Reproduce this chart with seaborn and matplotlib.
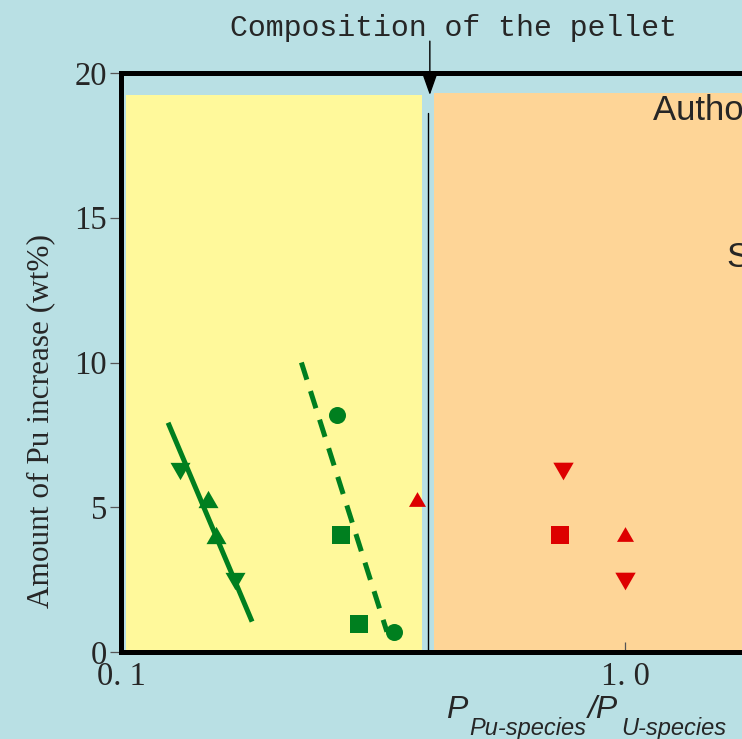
import numpy as np
import pandas as pd
import matplotlib
matplotlib.use("Agg")
import matplotlib.pyplot as plt
from matplotlib import font_manager
from matplotlib.patches import Rectangle
from matplotlib.ticker import NullLocator
import seaborn as sns

# ---- data: pressure ratio P(Pu-species)/P(U-species) vs. Pu increase (wt%) ----
green_down_x = [0.131, 0.168]
green_down_y = [6.25, 2.45]
green_up_x = [0.149, 0.154]
green_up_y = [5.3, 4.05]
green_circle_x = [0.268, 0.348]
green_circle_y = [8.2, 0.68]
green_square_x = [0.273, 0.297]
green_square_y = [4.05, 0.98]

red_up_x = [0.386, 1.0]
red_up_y = [5.3, 4.07]
red_down_x = [0.755, 1.0]
red_down_y = [6.25, 2.45]
red_square_x = [0.743]
red_square_y = [4.05]

solid_fit_x = [0.124, 0.182]
solid_fit_y = [7.92, 1.05]
dashed_fit_x = [0.228, 0.337]
dashed_fit_y = [10.0, 0.7]

pellet_ratio = 0.41
y_ticks = [0, 5, 10, 15, 20]
x_ticks = [0.1, 1.0]
x_tick_labels = ["0. 1", "1. 0"]

# ---- style ----
BG = "#B9E0E4"
YELLOW = "#FFF99B"
ORANGE = "#FED597"
GREEN = "#007F1F"
RED = "#DD0000"

sns.set_style("white")
plt.rcParams["font.family"] = ["Liberation Serif", "DejaVu Serif"]


def pick_family(*names):
    for name in names:
        try:
            font_manager.findfont(font_manager.FontProperties(family=name),
                                  fallback_to_default=False)
            return name
        except Exception:
            continue
    return "serif"


MONO_SERIF = pick_family("Liberation Mono", "Courier New", "Nimbus Mono PS",
                         "Liberation Serif")

W, H = 742, 739
fig = plt.figure(figsize=(W / 100, H / 100), dpi=100, facecolor=BG)
ax = fig.add_axes([121 / W, 1 - 652 / H, 1008 / W, 579 / H])
ax.set_facecolor(BG)
ax.set_xscale("log")
ax.set_xlim(0.1, 10)
ax.set_ylim(0, 20)


def fx(px):
    return px / W


def fy(py):
    return 1 - py / H


# shaded composition regions
ax.add_patch(Rectangle((0.1023, 0), 0.3951 - 0.1023, 19.24,
                       facecolor=YELLOW, edgecolor="none", zorder=0.5))
ax.add_patch(Rectangle((0.4178, 0), 9.7 - 0.4178, 19.31,
                       facecolor=ORANGE, edgecolor="none", zorder=0.5))
ax.plot([0.406, 0.406], [0, 18.62], color="black", lw=1.0, zorder=1)

# fitted trend lines
sns.lineplot(x=solid_fit_x, y=solid_fit_y, color=GREEN, lw=3.6, sort=False,
             estimator=None, solid_capstyle="butt", ax=ax, zorder=2)
sns.lineplot(x=dashed_fit_x, y=dashed_fit_y, color=GREEN, lw=3.6, sort=False,
             estimator=None, linestyle=(0, (3.6, 2.4)), ax=ax, zorder=2)

# equilateral triangle markers
TRI_DOWN = [(-1, 0.866), (1, 0.866), (0, -0.866)]
TRI_UP = [(-1, -0.866), (1, -0.866), (0, 0.866)]

groups = [
    (green_down_x, green_down_y, GREEN, TRI_DOWN, 207),
    (green_up_x, green_up_y, GREEN, TRI_UP, 207),
    (green_circle_x, green_circle_y, GREEN, "o", 150),
    (green_square_x, green_square_y, GREEN, "s", 165),
    (red_up_x, red_up_y, RED, TRI_UP, 150),
    (red_down_x, red_down_y, RED, TRI_DOWN, 215),
    (red_square_x, red_square_y, RED, "s", 165),
]
for gx, gy, col, mk, size in groups:
    df = pd.DataFrame({"ratio": gx, "pu": gy})
    sns.scatterplot(data=df, x="ratio", y="pu", color=col, marker=mk, s=size,
                    linewidth=0, legend=False, ax=ax, zorder=3)

# axes frame and ticks
for side in ["top", "left", "bottom", "right"]:
    ax.spines[side].set_linewidth(3.6)
    ax.spines[side].set_color("black")

ax.set_yticks(y_ticks)
ax.set_yticklabels([str(v) for v in y_ticks])
ax.set_xticks(x_ticks)
ax.set_xticklabels(x_tick_labels)
ax.xaxis.set_minor_locator(NullLocator())
ax.tick_params(axis="y", direction="out", length=8, width=0.9, color="#555555",
               pad=2, labelsize=23.5, left=True)
ax.tick_params(axis="x", direction="in", length=7, width=0.9, color="#555555",
               pad=7, labelsize=23.5, bottom=True)
ax.set_xlabel("")
ax.set_ylabel("")

# annotation arrow for the pellet composition
ax.annotate("", xy=(pellet_ratio, 19.24), xytext=(pellet_ratio, 21.1),
            xycoords="data", textcoords="data", annotation_clip=False,
            arrowprops=dict(arrowstyle="-|>,head_length=0.65,head_width=0.23",
                            mutation_scale=20, lw=1.0, color="black",
                            shrinkA=0, shrinkB=0))
fig.text(fx(453.5), fy(36), "Composition of the pellet", ha="center",
         va="baseline", family=MONO_SERIF, size=21.5)

# y-axis title
fig.text(fx(41), fy(421.5), "Amount of Pu increase (wt%)", rotation=90,
         ha="center", va="center", size=22.5)

# x-axis title built from pieces with deep subscripts
sans_it = dict(family=["Liberation Sans", "DejaVu Sans"], style="italic",
               va="baseline", ha="left")
fig.text(fx(446), fy(718), "P", size=23, **sans_it)
fig.text(fx(469), fy(735), "Pu-species", size=17, **sans_it)
fig.text(fx(588), fy(718), "/P", size=23, **sans_it)
fig.text(fx(621), fy(735), "U-species", size=17, **sans_it)

# region captions
sans = dict(family=["Liberation Sans", "DejaVu Sans"], va="baseline", ha="left")
ax.text(1.135, 18.38, "Authors' data", size=25, **sans)
ax.text(1.586, 13.31, "Simulation", size=25, **sans)

fig.savefig("out.png", dpi=100, facecolor=BG)
